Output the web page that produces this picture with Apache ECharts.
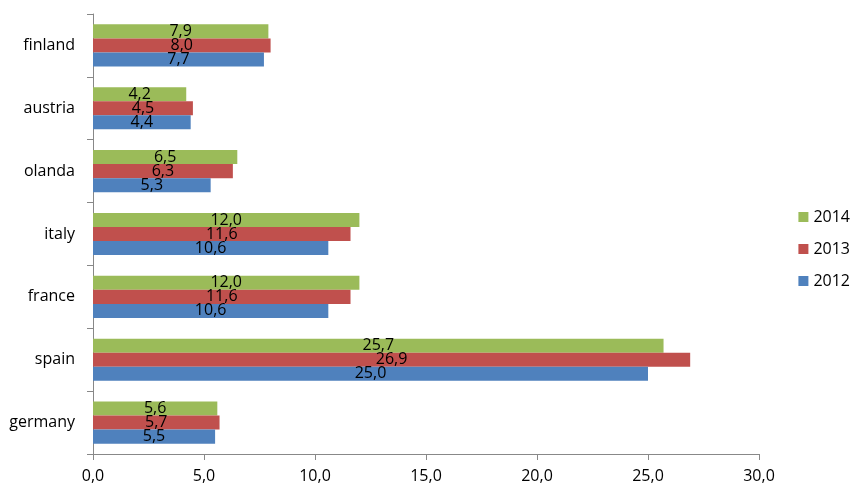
<!DOCTYPE html>
<html>
<head>
<meta charset="utf-8">
<script src="https://cdn.jsdelivr.net/npm/echarts@6/dist/echarts.min.js"></script>
<style>html,body{margin:0;padding:0;background:#fff}#c{width:865px;height:498px}</style>
</head>
<body>
<div id="c"></div>
<script>
const categories = ['germany', 'spain', 'france', 'italy', 'olanda', 'austria', 'finland'];
const v2012 = [5.5, 25.0, 10.6, 10.6, 5.3, 4.4, 7.7];
const v2013 = [5.7, 26.9, 11.6, 11.6, 6.3, 4.5, 8.0];
const v2014 = [5.6, 25.7, 12.0, 12.0, 6.5, 4.2, 7.9];
const xTicks = [0, 5, 10, 15, 20, 25, 30];

const fmt = v => Number(v).toFixed(1).replace('.', ',');
const FONT = 'Open Sans';
const label = {
  show: true, position: 'inside', color: '#000', fontFamily: FONT, fontSize: 16,
  formatter: p => fmt(p.value)
};
function mk(name, data, color) {
  return { name, type: 'bar', data, barGap: '0%', barCategoryGap: '33%',
    itemStyle: { color }, label, emphasis: { disabled: true } };
}
const chart = echarts.init(document.getElementById('c'));
chart.setOption({
  animation: false,
  textStyle: { fontFamily: FONT },
  grid: { left: 93, right: 106, top: 14, bottom: 44, containLabel: false },
  legend: {
    orient: 'vertical', right: 10, top: 'middle', itemGap: 16,
    itemWidth: 10, itemHeight: 10, icon: 'rect',
    data: ['2014', '2013', '2012'],
    textStyle: { fontFamily: FONT, fontSize: 16, color: '#000' }
  },
  xAxis: {
    type: 'value', min: xTicks[0], max: xTicks[xTicks.length - 1], interval: 5,
    splitLine: { show: false },
    axisLine: { show: true, lineStyle: { color: '#888' } },
    axisTick: { show: true, length: 6, lineStyle: { color: '#888' } },
    axisLabel: { formatter: fmt, color: '#000', fontSize: 16, margin: 14, fontFamily: FONT }
  },
  yAxis: {
    type: 'category', data: categories,
    axisLine: { show: true, lineStyle: { color: '#888' } },
    axisTick: { show: true, length: 6, lineStyle: { color: '#888' } },
    axisLabel: { color: '#000', fontSize: 16, margin: 18, fontFamily: FONT }
  },
  series: [
    mk('2014', v2014, '#9BBB59'),
    mk('2013', v2013, '#C0504D'),
    mk('2012', v2012, '#4F81BD')
  ]
});
</script>
</body>
</html>
